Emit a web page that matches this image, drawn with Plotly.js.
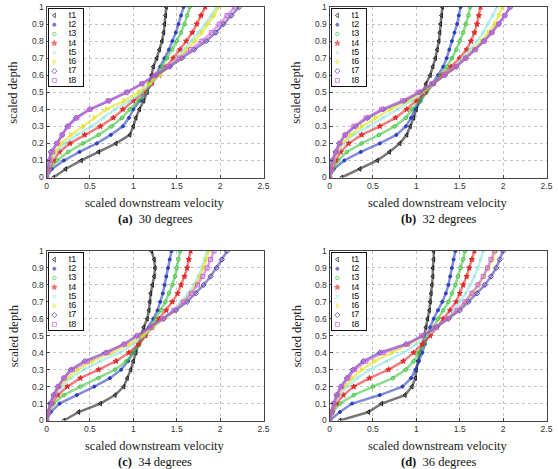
<!DOCTYPE html>
<html><head><meta charset="utf-8">
<script src="https://cdn.plot.ly/plotly-3.0.1.min.js"></script>
<style>html,body{margin:0;padding:0;background:#fff}#chart{width:558px;height:469px}</style>
</head><body><div id="chart"></div>
<script>
// ---------- data ----------
const depth = [0,0.05,0.1,0.15,0.2,0.25,0.3,0.35,0.4,0.45,0.5,0.55,0.6,0.65,0.7,0.75,0.8,0.85,0.9,0.95,1];
const seriesNames = ['t1','t2','t3','t4','t5','t6','t7','t8'];
const panelLetters = ['(a)','(b)','(c)','(d)'];
const panelAngles = ['30 degrees','32 degrees','34 degrees','36 degrees'];
const xTitle = 'scaled downstream velocity';
const yTitle = 'scaled depth';

// 30 degrees
const vel30_t1 = [0.08,0.22,0.40,0.60,0.80,0.96,1.00,1.03,1.07,1.12,1.16,1.18,1.21,1.23,1.27,1.30,1.33,1.35,1.36,1.37,1.38];
const vel30_t2 = [0,0.06,0.20,0.38,0.58,0.74,0.88,0.95,1.00,1.08,1.15,1.21,1.26,1.31,1.36,1.41,1.45,1.49,1.52,1.55,1.58];
const vel30_t3 = [0,0.04,0.12,0.25,0.42,0.60,0.75,0.87,0.96,1.06,1.14,1.21,1.27,1.33,1.39,1.45,1.50,1.55,1.59,1.62,1.65];
const vel30_t4 = [0,0.03,0.08,0.15,0.27,0.44,0.62,0.77,0.88,1.00,1.12,1.21,1.30,1.38,1.46,1.54,1.61,1.68,1.73,1.78,1.83];
const vel30_t5 = [0,0.02,0.06,0.12,0.21,0.35,0.52,0.66,0.79,0.96,1.10,1.20,1.30,1.40,1.50,1.58,1.67,1.75,1.83,1.90,1.96];
const vel30_t6 = [0,0.02,0.05,0.10,0.17,0.28,0.42,0.55,0.69,0.89,1.06,1.18,1.30,1.41,1.52,1.62,1.71,1.79,1.86,1.93,1.98];
const vel30_t7 = [0,0.01,0.03,0.05,0.12,0.18,0.24,0.34,0.50,0.72,0.93,1.10,1.26,1.42,1.56,1.70,1.84,1.95,2.04,2.13,2.22];
const vel30_t8 = [0,0.02,0.04,0.07,0.12,0.18,0.25,0.35,0.50,0.71,0.92,1.10,1.25,1.39,1.53,1.66,1.79,1.90,1.99,2.08,2.17];
// 32 degrees
const vel32_t1 = [0.14,0.35,0.55,0.69,0.81,0.89,0.93,0.97,1.00,1.04,1.08,1.11,1.16,1.19,1.22,1.24,1.26,1.27,1.28,1.29,1.30];
const vel32_t2 = [0,0.05,0.17,0.36,0.58,0.77,0.88,0.94,0.98,1.05,1.11,1.18,1.25,1.31,1.35,1.38,1.41,1.44,1.47,1.49,1.51];
const vel32_t3 = [0,0.04,0.10,0.20,0.37,0.57,0.75,0.88,0.95,1.04,1.12,1.20,1.28,1.35,1.41,1.46,1.50,1.54,1.57,1.60,1.62];
const vel32_t4 = [0,0.03,0.07,0.13,0.22,0.37,0.58,0.76,0.89,1.00,1.10,1.20,1.30,1.40,1.50,1.58,1.63,1.67,1.70,1.72,1.74];
const vel32_t5 = [0,0.02,0.05,0.10,0.16,0.28,0.45,0.62,0.78,0.95,1.08,1.20,1.32,1.44,1.53,1.62,1.70,1.77,1.83,1.88,1.93];
const vel32_t6 = [0,0.02,0.05,0.09,0.14,0.24,0.37,0.53,0.70,0.90,1.06,1.20,1.33,1.46,1.56,1.66,1.75,1.83,1.90,1.95,1.99];
const vel32_t7 = [0,0.01,0.03,0.07,0.11,0.18,0.30,0.44,0.62,0.86,1.04,1.19,1.33,1.46,1.57,1.68,1.78,1.87,1.95,2.02,2.08];
const vel32_t8 = [0,0.02,0.04,0.08,0.12,0.18,0.28,0.42,0.60,0.84,1.02,1.18,1.32,1.45,1.57,1.68,1.78,1.87,1.95,2.02,2.08];
// 34 degrees
const vel34_t1 = [0.20,0.37,0.62,0.79,0.89,0.93,0.97,1.00,1.03,1.06,1.09,1.12,1.16,1.18,1.19,1.20,1.22,1.24,1.25,1.24,1.21];
const vel34_t2 = [0,0.05,0.15,0.35,0.55,0.73,0.86,0.94,1.00,1.06,1.12,1.18,1.23,1.28,1.31,1.34,1.36,1.38,1.40,1.42,1.44];
const vel34_t3 = [0,0.03,0.08,0.20,0.39,0.60,0.79,0.92,1.00,1.07,1.14,1.20,1.26,1.32,1.37,1.41,1.45,1.48,1.50,1.52,1.54];
const vel34_t4 = [0,0.02,0.06,0.13,0.24,0.39,0.60,0.80,0.95,1.06,1.14,1.22,1.30,1.38,1.45,1.51,1.55,1.59,1.62,1.64,1.66];
const vel34_t5 = [0,0.02,0.05,0.10,0.18,0.28,0.43,0.62,0.84,1.00,1.12,1.23,1.34,1.45,1.55,1.63,1.70,1.75,1.79,1.82,1.85];
const vel34_t6 = [0,0.02,0.05,0.09,0.15,0.24,0.36,0.53,0.75,0.95,1.10,1.23,1.36,1.48,1.58,1.66,1.72,1.77,1.81,1.84,1.87];
const vel34_t7 = [0,0.02,0.04,0.08,0.13,0.20,0.28,0.44,0.68,0.89,1.04,1.20,1.35,1.49,1.62,1.72,1.81,1.89,1.96,2.02,2.08];
const vel34_t8 = [0,0.02,0.05,0.09,0.14,0.20,0.30,0.47,0.70,0.90,1.05,1.20,1.34,1.47,1.58,1.67,1.74,1.80,1.85,1.89,1.93];
// 36 degrees
const vel36_t1 = [0.12,0.45,0.60,0.87,0.95,0.99,1.00,1.02,1.04,1.07,1.09,1.11,1.13,1.15,1.16,1.17,1.18,1.19,1.19,1.20,1.20];
const vel36_t2 = [0,0.12,0.26,0.58,0.84,0.94,0.99,1.03,1.07,1.10,1.13,1.16,1.20,1.25,1.30,1.34,1.37,1.39,1.41,1.43,1.45];
const vel36_t3 = [0,0.04,0.12,0.28,0.50,0.73,0.88,0.97,1.03,1.09,1.14,1.20,1.25,1.31,1.37,1.41,1.45,1.48,1.51,1.54,1.56];
const vel36_t4 = [0,0.03,0.08,0.16,0.28,0.46,0.68,0.85,0.97,1.07,1.16,1.24,1.31,1.39,1.46,1.50,1.54,1.58,1.61,1.64,1.67];
const vel36_t5 = [0,0.02,0.06,0.12,0.20,0.32,0.47,0.66,0.85,1.00,1.12,1.24,1.35,1.43,1.50,1.57,1.62,1.67,1.71,1.74,1.77];
const vel36_t6 = [0,0.02,0.05,0.10,0.17,0.26,0.37,0.52,0.72,0.92,1.08,1.23,1.37,1.48,1.57,1.65,1.72,1.78,1.83,1.88,1.92];
const vel36_t7 = [0,0.02,0.05,0.08,0.13,0.20,0.27,0.39,0.58,0.88,1.08,1.23,1.37,1.50,1.60,1.70,1.79,1.86,1.92,1.96,2.00];
const vel36_t8 = [0,0.02,0.05,0.09,0.14,0.21,0.29,0.42,0.62,0.90,1.06,1.22,1.36,1.47,1.56,1.64,1.71,1.77,1.82,1.86,1.90];

const panelData = [
  [vel30_t1,vel30_t2,vel30_t3,vel30_t4,vel30_t5,vel30_t6,vel30_t7,vel30_t8],
  [vel32_t1,vel32_t2,vel32_t3,vel32_t4,vel32_t5,vel32_t6,vel32_t7,vel32_t8],
  [vel34_t1,vel34_t2,vel34_t3,vel34_t4,vel34_t5,vel34_t6,vel34_t7,vel34_t8],
  [vel36_t1,vel36_t2,vel36_t3,vel36_t4,vel36_t5,vel36_t6,vel36_t7,vel36_t8]
];

// ---------- style ----------
const colors  = ['#1a1a1a','#2b3fbf','#3ec43e','#e52a2a','#8fe3e3','#e3e31a','#4a3aa8','#c864d8'];
const symbols = ['triangle-left-open','circle','circle-open','star','x-thin-open','triangle-right-open','diamond-open','square-open'];
const sizes   = [4,3,3.5,4,3.5,4,4,4];

const W = 558, H = 469;
const boxes = [
  {L:46.5, R:263.5, T:7,   B:177.5},
  {L:329.5,R:546.5, T:7,   B:177.5},
  {L:46.5, R:263.5, T:251, B:420.5},
  {L:329.5,R:546.5, T:251, B:420.5}
];
const fx = p => p / W;
const fy = p => (H - p) / H;
function rgba(hex, a){
  const n = parseInt(hex.slice(1),16);
  return 'rgba(' + ((n>>16)&255) + ',' + ((n>>8)&255) + ',' + (n&255) + ',' + a + ')';
}
const tickFont = {family:'Liberation Sans, Arial, sans-serif', size:8.5, color:'#333'};
const serif = 'Liberation Serif, Times New Roman, serif';

const traces = [];
const layout = {
  width: W, height: H, margin:{l:0,r:0,t:0,b:0},
  paper_bgcolor:'#fff', plot_bgcolor:'#fff', showlegend:false,
  annotations: [], shapes: []
};

boxes.forEach((b, p) => {
  const n = p + 1;
  const xk = n === 1 ? 'xaxis' : 'xaxis' + n;
  const yk = n === 1 ? 'yaxis' : 'yaxis' + n;
  const xr = n === 1 ? 'x' : 'x' + n;
  const yr = n === 1 ? 'y' : 'y' + n;
  const common = {
    showgrid:true, gridcolor:'#c4c4c4', griddash:'dot', gridwidth:1,
    showline:true, mirror:true, linecolor:'#444', linewidth:1,
    ticks:'inside', ticklen:3, tickcolor:'#444', tickfont:tickFont,
    zeroline:false, fixedrange:true
  };
  layout[xk] = Object.assign({}, common, {domain:[fx(b.L), fx(b.R)], anchor:yr, range:[0,2.5], tick0:0, dtick:0.5});
  layout[yk] = Object.assign({}, common, {domain:[fy(b.B), fy(b.T)], anchor:xr, range:[0,1], tick0:0, dtick:0.1});

  panelData[p].forEach((vals, i) => {
    traces.push({
      type:'scatter', mode:'lines+markers', x: vals, y: depth, xaxis: xr, yaxis: yr,
      name: seriesNames[i], hoverinfo:'skip', cliponaxis:true,
      line:{color: rgba(colors[i], 0.6), width:2.5},
      marker:{symbol: symbols[i], size: sizes[i], color: colors[i], line:{width:1, color: colors[i]}}
    });
  });

  // legend (custom, compact)
  const lg = {L: b.L + 2.5, R: b.L + 36, T: b.T + 1.5, B: b.T + 78.5};
  const ln = n + 4;
  layout['xaxis' + ln] = {domain:[fx(lg.L), fx(lg.R)], anchor:'y' + ln, range:[0,1],
    showgrid:false, zeroline:false, showticklabels:false, ticks:'', showline:true, mirror:true,
    linecolor:'#111', linewidth:1, fixedrange:true};
  layout['yaxis' + ln] = {domain:[fy(lg.B), fy(lg.T)], anchor:'x' + ln, type:'category',
    categoryorder:'array', categoryarray: seriesNames, range:[7.55,-0.75],
    showgrid:false, zeroline:false, showticklabels:false, ticks:'', showline:true, mirror:true,
    linecolor:'#111', linewidth:1, fixedrange:true};
  layout.shapes.push({type:'rect', xref: xr, yref: yr, layer:'between',
    x0: (lg.L - b.L) / (b.R - b.L) * 2.5, x1: (lg.R - b.L) / (b.R - b.L) * 2.5,
    y0: (b.B - lg.B) / (b.B - b.T), y1: (b.B - lg.T) / (b.B - b.T),
    fillcolor:'#fff', line:{width:0}});
  traces.push({
    type:'scatter', mode:'markers', x: seriesNames.map(() => 0.16), y: seriesNames,
    xaxis:'x' + ln, yaxis:'y' + ln, hoverinfo:'skip',
    marker:{symbol: symbols, size: sizes, color: colors, line:{width:1, color: colors}}
  });
  traces.push({
    type:'scatter', mode:'text', x: seriesNames.map(() => 0.7), y: seriesNames, text: seriesNames,
    xaxis:'x' + ln, yaxis:'y' + ln, hoverinfo:'skip',
    textfont:{family:'Liberation Sans, Arial, sans-serif', size:9, color:'#111'}
  });

  // titles & captions
  const cx = fx((b.L + b.R) / 2);
  layout.annotations.push({xref:'paper', yref:'paper', x: cx, y: fy(b.B + 25.5), text: xTitle,
    showarrow:false, xanchor:'center', yanchor:'middle', font:{family:serif, size:12.5, color:'#222'}});
  layout.annotations.push({xref:'paper', yref:'paper', x: fx(b.L - 33), y: fy((b.T + b.B) / 2), text: yTitle,
    textangle:-90, showarrow:false, xanchor:'center', yanchor:'middle', font:{family:serif, size:12.5, color:'#222'}});
  layout.annotations.push({xref:'paper', yref:'paper', x: cx, y: fy(b.B + 41),
    text: '<b>' + panelLetters[p] + '</b>  ' + panelAngles[p],
    showarrow:false, xanchor:'center', yanchor:'middle', font:{family:serif, size:12.5, color:'#111'}});
});

Plotly.newPlot('chart', traces, layout, {staticPlot:true, displayModeBar:false});
</script>
</body></html>
